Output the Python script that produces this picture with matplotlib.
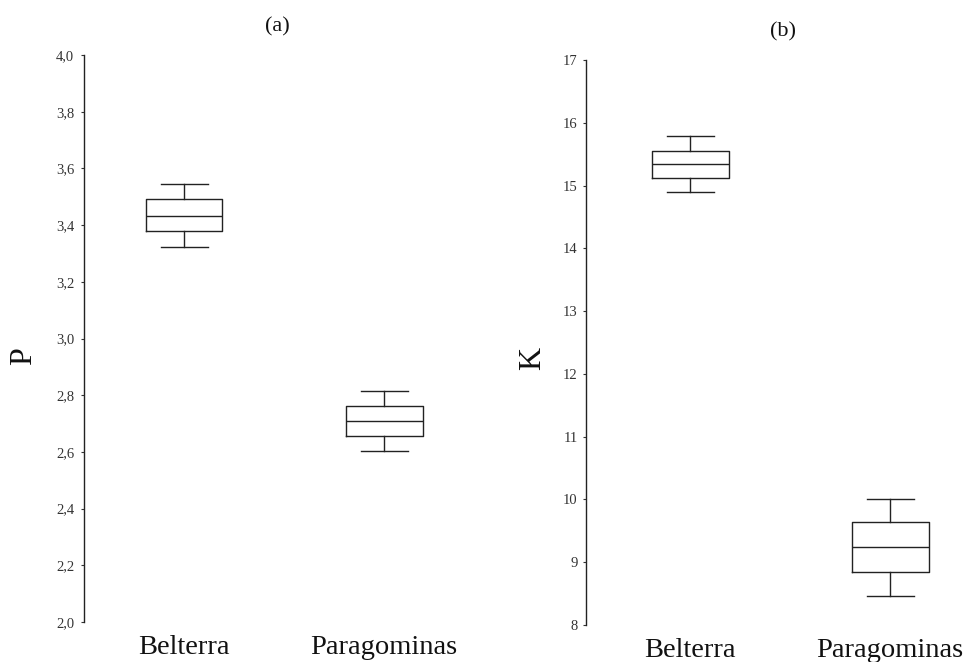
import matplotlib
matplotlib.use("Agg")
import matplotlib.pyplot as plt
from matplotlib.ticker import FuncFormatter

plt.rcParams['font.family'] = ['Liberation Serif', 'DejaVu Serif']

categories = ['Belterra', 'Paragominas']

# Panel (a): P
p_whislo = [3.322, 2.603]
p_q1 = [3.379, 2.656]
p_med = [3.433, 2.710]
p_q3 = [3.491, 2.763]
p_whishi = [3.546, 2.816]
p_ticks = [2.0, 2.2, 2.4, 2.6, 2.8, 3.0, 3.2, 3.4, 3.6, 3.8, 4.0]

# Panel (b): K
k_whislo = [14.893, 8.465]
k_q1 = [15.116, 8.852]
k_med = [15.344, 9.240]
k_q3 = [15.556, 9.633]
k_whishi = [15.785, 10.005]
k_ticks = [8, 9, 10, 11, 12, 13, 14, 15, 16, 17]

W, H = 966, 662
fig = plt.figure(figsize=(W / 100, H / 100), dpi=100)


def make_stats(lo, q1, med, q3, hi):
    return [dict(whislo=a, q1=b, med=c, q3=d, whishi=e, fliers=[], label=lab)
            for a, b, c, d, e, lab in zip(lo, q1, med, q3, hi, categories)]


def style_axis(ax, stats, ticks, fmt, ylim, xlim, pad):
    bs = make_stats(*stats)
    ax.bxp(bs, positions=[1, 2], widths=0.385, capwidths=0.235, showfliers=False,
           boxprops=dict(color='#222222', linewidth=1.0),
           whiskerprops=dict(color='#222222', linewidth=1.0),
           capprops=dict(color='#222222', linewidth=1.0),
           medianprops=dict(color='#222222', linewidth=1.0))
    ax.set_xlim(*xlim)
    ax.set_ylim(*ylim)
    for s in ['top', 'right', 'bottom']:
        ax.spines[s].set_visible(False)
    ax.spines['left'].set_linewidth(1.0)
    ax.spines['left'].set_color('#222222')
    ax.set_yticks(ticks)
    ax.yaxis.set_major_formatter(FuncFormatter(fmt))
    ax.tick_params(axis='y', length=2, width=0.8, pad=pad, labelsize=10.5, colors='#333333')
    ax.set_xticks([1, 2])
    ax.set_xticklabels(categories, fontsize=20.5)
    ax.tick_params(axis='x', length=0, pad=9.5, colors='#111111')


ax1 = fig.add_axes([84 / W, 40 / H, 400 / W, 567 / H])
style_axis(ax1, (p_whislo, p_q1, p_med, p_q3, p_whishi), p_ticks,
           lambda v, pos: f"{v:.1f}".replace('.', ','), (2.0, 4.0), (0.5, 2.5), 5)

ax2 = fig.add_axes([586 / W, 37 / H, 380 / W, 565 / H])
style_axis(ax2, (k_whislo, k_q1, k_med, k_q3, k_whishi), k_ticks,
           lambda v, pos: f"{int(v)}", (8, 17), (0.48, 2.38), 4)

fig.text(277 / W, 1 - 27 / H, '(a)', ha='center', va='center', fontsize=16, color='#111111')
fig.text(783 / W, 1 - 32 / H, '(b)', ha='center', va='center', fontsize=16, color='#111111')
fig.text(24 / W, 1 - 356 / H, 'P', rotation=90, ha='center', va='center', fontsize=23, color='#111111')
fig.text(533 / W, 1 - 358 / H, 'K', rotation=90, ha='center', va='center', fontsize=23, color='#111111')

fig.savefig('out.png', dpi=100)
